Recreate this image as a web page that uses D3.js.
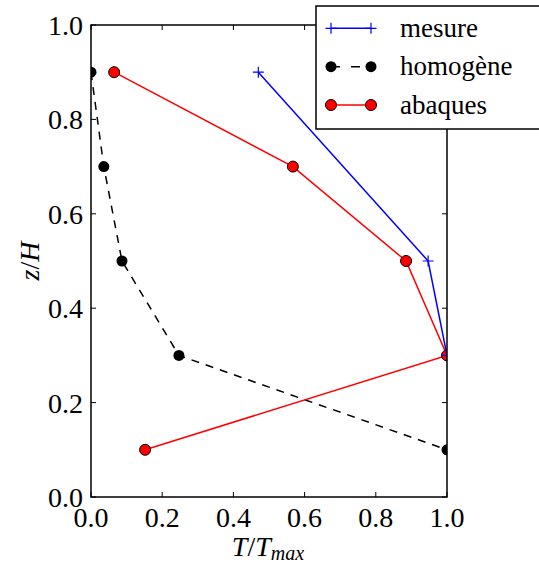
<!DOCTYPE html>
<html><head><meta charset="utf-8">
<script src="https://cdn.jsdelivr.net/npm/d3@7"></script>
<style>body{margin:0;background:#fff}svg{display:block}
text{font-family:"Liberation Serif","DejaVu Serif",serif}
</style>
</head><body>
<script>
const ticks = [0.0, 0.2, 0.4, 0.6, 0.8, 1.0];
const tickLabels = ["0.0", "0.2", "0.4", "0.6", "0.8", "1.0"];
const mesureT = [0.47, 0.947, 1.0];
const mesureZ = [0.9, 0.5, 0.3];
const homogeneT = [0.0, 0.036, 0.087, 0.247, 1.0];
const homogeneZ = [0.9, 0.7, 0.5, 0.3, 0.1];
const abaquesT = [0.065, 0.567, 0.885, 1.0, 0.152];
const abaquesZ = [0.9, 0.7, 0.5, 0.3, 0.1];
const seriesNames = ["mesure", "homogène", "abaques"];

const W = 539, H = 563;
const m = {l: 91, r: 447, t: 25, b: 497};
const svg = d3.select("body").append("svg").attr("width", W).attr("height", H);
const x = d3.scaleLinear().domain([0, 1]).range([m.l, m.r]);
const y = d3.scaleLinear().domain([0, 1]).range([m.b, m.t]);

svg.append("clipPath").attr("id", "clip").append("rect")
  .attr("x", m.l).attr("y", m.t).attr("width", m.r - m.l).attr("height", m.b - m.t);

const g = svg.append("g").attr("clip-path", "url(#clip)");
const line = d3.line().x(d => x(d[0])).y(d => y(d[1]));
const zip = (a, b) => a.map((v, i) => [v, b[i]]);

const hom = zip(homogeneT, homogeneZ);
g.append("path").attr("d", line(hom)).attr("fill", "none").attr("stroke", "#000")
  .attr("stroke-width", 1.5).attr("stroke-dasharray", "8,7");
g.selectAll(".hd").data(hom).enter().append("circle")
  .attr("cx", d => x(d[0])).attr("cy", d => y(d[1])).attr("r", 5.5).attr("fill", "#000");

const aba = zip(abaquesT, abaquesZ);
g.append("path").attr("d", line(aba)).attr("fill", "none").attr("stroke", "#ff0000").attr("stroke-width", 1.5);
g.selectAll(".ad").data(aba).enter().append("circle")
  .attr("cx", d => x(d[0])).attr("cy", d => y(d[1])).attr("r", 5.5)
  .attr("fill", "#ff0000").attr("stroke", "#000").attr("stroke-width", 1);

const mes = zip(mesureT, mesureZ);
g.append("path").attr("d", line(mes)).attr("fill", "none").attr("stroke", "#0000ff").attr("stroke-width", 1.5);
const plus = (sel, cx, cy) => sel.append("path")
  .attr("d", `M${cx-5.5},${cy}H${cx+5.5}M${cx},${cy-5.5}V${cy+5.5}`)
  .attr("stroke", "#0000ff").attr("stroke-width", 1.2).attr("fill", "none");
mes.forEach(d => plus(g, x(d[0]), y(d[1])));

svg.append("rect").attr("x", m.l).attr("y", m.t).attr("width", m.r - m.l).attr("height", m.b - m.t)
  .attr("fill", "none").attr("stroke", "#000").attr("stroke-width", 1.5);

const tl = 5;
ticks.forEach((t, i) => {
  svg.append("line").attr("x1", x(t)).attr("x2", x(t)).attr("y1", m.b).attr("y2", m.b - tl).attr("stroke", "#000");
  svg.append("line").attr("x1", x(t)).attr("x2", x(t)).attr("y1", m.t).attr("y2", m.t + tl).attr("stroke", "#000");
  svg.append("line").attr("y1", y(t)).attr("y2", y(t)).attr("x1", m.l).attr("x2", m.l + tl).attr("stroke", "#000");
  svg.append("line").attr("y1", y(t)).attr("y2", y(t)).attr("x1", m.r).attr("x2", m.r - tl).attr("stroke", "#000");
  svg.append("text").attr("x", x(t)).attr("y", m.b + 30).attr("text-anchor", "middle")
    .attr("font-size", 28).text(tickLabels[i]);
  svg.append("text").attr("x", m.l - 8).attr("y", y(t) + 10).attr("text-anchor", "end")
    .attr("font-size", 28).text(tickLabels[i]);
});

const xl = svg.append("text").attr("x", 268).attr("y", 556).attr("text-anchor", "middle")
  .attr("font-size", 28).attr("font-style", "italic");
xl.append("tspan").text("T");
xl.append("tspan").attr("font-style", "normal").text("/");
xl.append("tspan").text("T");
xl.append("tspan").attr("font-size", 20).attr("dy", 4).text("max");

const yl = svg.append("text").attr("transform", `translate(39,${(m.t + m.b) / 2}) rotate(-90)`)
  .attr("text-anchor", "middle").attr("font-size", 28).attr("font-style", "italic");
yl.append("tspan").text("z");
yl.append("tspan").attr("font-style", "normal").text("/");
yl.append("tspan").text("H");

const lg = svg.append("g");
lg.append("rect").attr("x", 316).attr("y", 6).attr("width", 240).attr("height", 123)
  .attr("fill", "#fff").attr("stroke", "#000").attr("stroke-width", 1.5);
const rows = [28.3, 66.7, 105];
const lx1 = 331, lx2 = 371;
lg.append("line").attr("x1", lx1).attr("x2", lx2).attr("y1", rows[0]).attr("y2", rows[0]).attr("stroke", "#0000ff").attr("stroke-width", 1.5);
plus(lg, lx1, rows[0]); plus(lg, lx2, rows[0]);
lg.append("line").attr("x1", lx1).attr("x2", lx2).attr("y1", rows[1]).attr("y2", rows[1]).attr("stroke", "#000")
  .attr("stroke-width", 1.5).attr("stroke-dasharray", "9,11");
[lx1, lx2].forEach(cx => lg.append("circle").attr("cx", cx).attr("cy", rows[1]).attr("r", 5.5).attr("fill", "#000"));
lg.append("line").attr("x1", lx1).attr("x2", lx2).attr("y1", rows[2]).attr("y2", rows[2]).attr("stroke", "#ff0000").attr("stroke-width", 1.5);
[lx1, lx2].forEach(cx => lg.append("circle").attr("cx", cx).attr("cy", rows[2]).attr("r", 5.5)
  .attr("fill", "#ff0000").attr("stroke", "#000").attr("stroke-width", 1));
seriesNames.forEach((n, i) => lg.append("text").attr("x", 400).attr("y", rows[i] + 8.5)
  .attr("font-size", 27).text(n));
</script>
</body></html>
